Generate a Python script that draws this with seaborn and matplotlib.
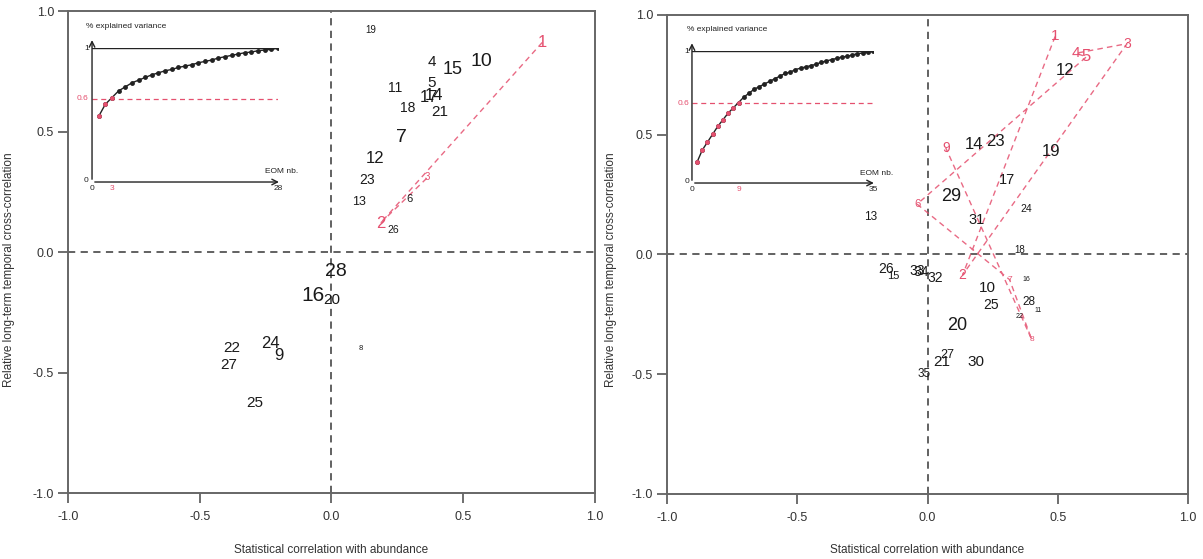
import matplotlib.pyplot as plt
import pandas as pd
import seaborn as sns

sns.set_style("white")
plt.rcParams["font.family"] = ["Liberation Sans", "DejaVu Sans"]

RED = "#E5506F"
INK = "#1a1a1a"
GREY = "#555555"

# --------------------------------------------------------------------------
# Data
# --------------------------------------------------------------------------

# left panel: EOM labels 1..28
left_labels = [str(i) for i in range(1, 29)]
left_x = [0.80, 0.186, 0.365, 0.38, 0.38, 0.295, 0.265, 0.11, -0.20, 0.57,
          0.24, 0.167, 0.106, 0.39, 0.46, -0.07, 0.37, 0.29, 0.148, 0.0,
          0.41, -0.38, 0.136, -0.23, -0.29, 0.235, -0.39, 0.015]
left_y = [0.87, 0.12, 0.31, 0.79, 0.70, 0.22, 0.475, -0.40, -0.43, 0.79,
          0.68, 0.39, 0.21, 0.65, 0.76, -0.18, 0.64, 0.60, 0.92, -0.20,
          0.58, -0.40, 0.30, -0.38, -0.625, 0.09, -0.47, -0.08]
left_size = [12, 12, 7, 11, 11, 8, 14, 5.5, 12, 14,
             10, 12, 9, 12, 13, 15, 12, 10, 7, 11,
             11, 11, 10, 12, 11, 7.5, 11, 14]
left_selected = 3

# right panel: EOM labels 1..35
right_labels = [str(i) for i in range(1, 36)]
right_x = [0.49, 0.135, 0.766, 0.57, 0.61, -0.04, 0.315, 0.40, 0.07, 0.23,
           0.425, 0.53, -0.22, 0.18, -0.13, 0.38, 0.305, 0.355, 0.475, 0.115,
           0.055, 0.355, 0.26, 0.38, 0.245, -0.16, 0.075, 0.39, 0.09, 0.185,
           0.19, 0.03, -0.04, -0.025, -0.015]
right_y = [0.91, -0.085, 0.88, 0.84, 0.825, 0.21, -0.105, -0.355, 0.445, -0.14,
           -0.235, 0.77, 0.155, 0.46, -0.09, -0.105, 0.31, 0.02, 0.43, -0.295,
           -0.45, -0.26, 0.47, 0.19, -0.21, -0.06, -0.42, -0.20, 0.24, -0.45,
           0.145, -0.10, -0.07, -0.075, -0.50]
right_size = [11, 10, 10, 11, 12, 8, 6, 6, 10, 11,
              5, 12, 8.5, 12, 8, 5, 10.5, 7, 12, 13,
              11, 5, 12, 7.5, 10, 10, 9, 8.5, 13, 11,
              10.5, 10, 10, 10, 8.5]
right_selected = 9

# inset: cumulative explained variance per EOM
left_cumvar = [0.49, 0.58, 0.63, 0.68, 0.71, 0.74, 0.76, 0.78, 0.80, 0.815,
               0.83, 0.84, 0.855, 0.865, 0.875, 0.89, 0.90, 0.91, 0.925, 0.935,
               0.945, 0.955, 0.965, 0.97, 0.98, 0.985, 0.99, 1.0]
right_cumvar = [0.16, 0.25, 0.31, 0.37, 0.43, 0.48, 0.53, 0.57, 0.61, 0.65,
                0.68, 0.71, 0.73, 0.75, 0.77, 0.79, 0.81, 0.83, 0.84, 0.86,
                0.87, 0.88, 0.89, 0.90, 0.915, 0.925, 0.935, 0.945, 0.955, 0.96,
                0.97, 0.98, 0.985, 0.99, 1.0]
threshold_level = [0.62, 0.605]

XLABEL = "Statistical correlation with abundance"
YLABEL = "Relative long-term temporal cross-correlation"


# --------------------------------------------------------------------------
# Drawing helpers
# --------------------------------------------------------------------------

def draw_panel(ax, labels, xs, ys, sizes, n_sel, ylab_coords):
    df = pd.DataFrame({"label": labels, "x": xs, "y": ys, "size": sizes})
    ax.set_xlim(-1, 1)
    ax.set_ylim(-1, 1)
    ax.axhline(0, color=GREY, lw=1.3, ls=(0, (4, 3)), zorder=1)
    ax.axvline(0, color=GREY, lw=1.3, ls=(0, (4, 3)), zorder=1)

    # path joining the selected EOMs
    sel = df.iloc[:n_sel]
    sns.lineplot(data=sel, x="x", y="y", sort=False, estimator=None, ax=ax,
                 color=RED, lw=1.0, alpha=0.85, linestyle=(0, (4, 3)), zorder=2)

    for i, row in df.iterrows():
        ax.text(row["x"], row["y"], row["label"], fontsize=row["size"],
                color=RED if i < n_sel else INK, ha="center", va="center", zorder=3)

    ax.set_xticks([-1.0, -0.5, 0.0, 0.5, 1.0])
    ax.set_yticks([-1.0, -0.5, 0.0, 0.5, 1.0])
    ax.set_xticklabels(["-1.0", "-0.5", "0.0", "0.5", "1.0"])
    ax.set_yticklabels(["-1.0", "-0.5", "0.0", "0.5", "1.0"])
    ax.tick_params(axis="both", direction="out", length=7, width=1.2,
                   bottom=True, left=True,
                   colors="#555555", labelcolor="#333333", labelsize=9)
    ax.tick_params(axis="x", pad=6)
    ax.tick_params(axis="y", pad=3)
    for s in ax.spines.values():
        s.set_color("#666666")
        s.set_linewidth(1.4)
    ax.set_xlabel(XLABEL, fontsize=8.5, color="#333333")
    ax.set_ylabel(YLABEL, fontsize=8.5, color="#333333")
    ax.xaxis.set_label_coords(0.5, -0.105)
    ax.yaxis.set_label_coords(*ylab_coords)


def draw_inset(ax, cumvar, n_sel, level):
    n = len(cumvar)
    df = pd.DataFrame({"eom": range(1, n + 1), "var": cumvar})
    ax.set_xlim(0, n)
    ax.set_ylim(0, 1)
    ax.axis("off")

    ax.plot([0, n], [1, 1], color="#222222", lw=1.0)
    ax.plot([0, n], [level, level], color=RED, lw=0.9, ls=(0, (4, 3)))
    ax.annotate("", xy=(0, 1.08), xytext=(0, 0), annotation_clip=False,
                arrowprops=dict(arrowstyle="->", color="#222222", lw=1.0))
    ax.annotate("", xy=(n * 1.02, 0), xytext=(0, 0), annotation_clip=False,
                arrowprops=dict(arrowstyle="->", color="#222222", lw=1.0))

    sns.lineplot(data=df, x="eom", y="var", ax=ax, color="#222222", lw=1.0,
                 marker="o", markersize=3.5, markeredgewidth=0)
    sns.scatterplot(data=df.iloc[:n_sel], x="eom", y="var", ax=ax, color=RED,
                    s=12, linewidth=0, zorder=4)
    ax.set_xlabel("")
    ax.set_ylabel("")

    fs = 6
    ax.text(-0.03, 1.16, "% explained variance", transform=ax.transAxes,
            fontsize=fs, color="#222222", ha="left", va="center")
    ax.text(0.93, 0.075, "EOM nb.", transform=ax.transAxes,
            fontsize=fs, color="#222222", ha="left", va="center")
    ax.text(0, -0.05, "0", fontsize=fs, color="#222222", ha="center", va="center")
    ax.text(-0.5, 0.01, "0", fontsize=fs, color="#222222", ha="right", va="center")
    ax.text(-0.5, 1.0, "1", fontsize=fs, color="#222222", ha="right", va="center")
    ax.text(-0.5, level, "0.6", fontsize=fs, color=RED, ha="right", va="center")
    ax.text(n_sel, -0.05, str(n_sel), fontsize=fs, color=RED, ha="center", va="center")
    ax.text(n, -0.05, str(n), fontsize=fs, color="#222222", ha="center", va="center")


# --------------------------------------------------------------------------
# Figure
# --------------------------------------------------------------------------

fig = plt.figure(figsize=(12.03, 5.59), dpi=100)

ax_left = fig.add_axes([0.0565, 0.118, 0.438, 0.862])
ax_right = fig.add_axes([0.5545, 0.1163, 0.433, 0.857])

draw_panel(ax_left, left_labels, left_x, left_y, left_size, left_selected,
           (-0.10, 0.463))
draw_panel(ax_right, right_labels, right_x, right_y, right_size, right_selected,
           (-0.096, 0.468))

inset_left = fig.add_axes([0.0765, 0.6744, 0.1546, 0.2397])
inset_right = fig.add_axes([0.5752, 0.6726, 0.1505, 0.2361])
draw_inset(inset_left, left_cumvar, left_selected, threshold_level[0])
draw_inset(inset_right, right_cumvar, right_selected, threshold_level[1])

fig.savefig("out.png", dpi=100)
